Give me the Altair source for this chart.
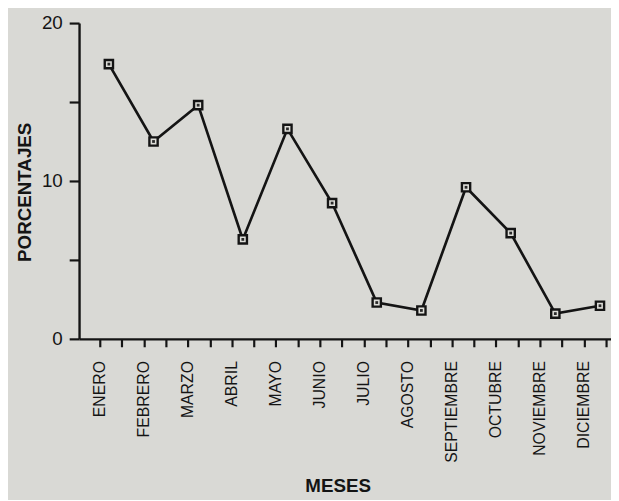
import altair as alt
import pandas as pd

months = ["ENERO", "FEBRERO", "MARZO", "ABRIL", "MAYO", "JUNIO", "JULIO",
          "AGOSTO", "SEPTIEMBRE", "OCTUBRE", "NOVIEMBRE", "DICIEMBRE"]
percent = [17.4, 12.5, 14.8, 6.3, 13.3, 8.6, 2.3, 1.8, 9.6, 6.7, 1.6, 2.1]
y_ticks = [0, 5, 10, 15, 20]
x_ticks = [i / 2 for i in range(2, 26)]

df = pd.DataFrame({"mes": months, "n": list(range(1, 13)), "pct": percent})

label_js = "[" + ",".join(f"'{m}'" for m in months) + "]"
FONT = "Liberation Sans"
INK = "#141414"

yenc = alt.Y(
    "pct:Q",
    scale=alt.Scale(domain=[0, 20], nice=False, zero=True),
    axis=alt.Axis(
        values=y_ticks,
        labelExpr="datum.value % 10 == 0 ? datum.label : ''",
        title="PORCENTAJES",
        titleFont=FONT, titleFontSize=19, titleFontWeight="bold", titleColor=INK,
        titleX=-55, titleY=171, titleAlign="center", titleBaseline="middle", titleAngle=-90,
        labelFont=FONT, labelFontSize=19, labelColor=INK, labelPadding=7,
        tickSize=10, tickWidth=2.2, tickColor=INK,
        domainWidth=2.4, domainColor=INK, grid=False,
    ),
)

xline = alt.X("n:Q", scale=alt.Scale(domain=[0.332, 12.247], nice=False, zero=False), axis=None)

line = alt.Chart(df).mark_line(color=INK, strokeWidth=2.7).encode(x=xline, y=yenc)
pts_outer = alt.Chart(df).mark_point(
    shape="square", size=70, filled=True, fill="#deded9", stroke=INK, strokeWidth=2.4, opacity=1
).encode(x=xline, y="pct:Q")
pts_inner = alt.Chart(df).mark_point(
    shape="square", size=8, filled=True, color="#2a2a2a", opacity=1
).encode(x=xline, y="pct:Q")

axis_layer = alt.Chart(df).mark_point(opacity=0).encode(
    x=alt.X(
        "n:Q",
        scale=alt.Scale(domain=[0.529, 12.614], nice=False, zero=False),
        axis=alt.Axis(
            orient="bottom",
            values=x_ticks,
            labelExpr=f"datum.value % 1 == 0 ? {label_js}[datum.value - 1] : ''",
            labelAngle=-90, labelAlign="right", labelBaseline="middle",
            labelFont=FONT, labelFontSize=16, labelColor=INK, labelPadding=14,
            labelOverlap=False, labelBound=False, labelFlush=False,
            tickSize=8, tickWidth=2.2, tickColor=INK,
            domainWidth=2.4, domainColor=INK, grid=False,
            title="MESES",
            titleFont=FONT, titleFontSize=19, titleFontWeight="bold", titleColor=INK,
            titleX=262, titleY=140, titleAlign="center", titleBaseline="top",
        ),
    ),
    y="pct:Q",
)

chart = (
    alt.layer(line, pts_outer, pts_inner, axis_layer)
    .resolve_scale(x="independent")
    .properties(
        width=539, height=320,
        autosize=alt.AutoSizeParams(type="none"),
        padding={"left": 72, "top": 12, "right": 0, "bottom": 160},
        background="#d9d9d5",
    )
    .configure_view(stroke=None)
)

chart.save("out.html", embed_options={"renderer": "svg", "actions": False})
